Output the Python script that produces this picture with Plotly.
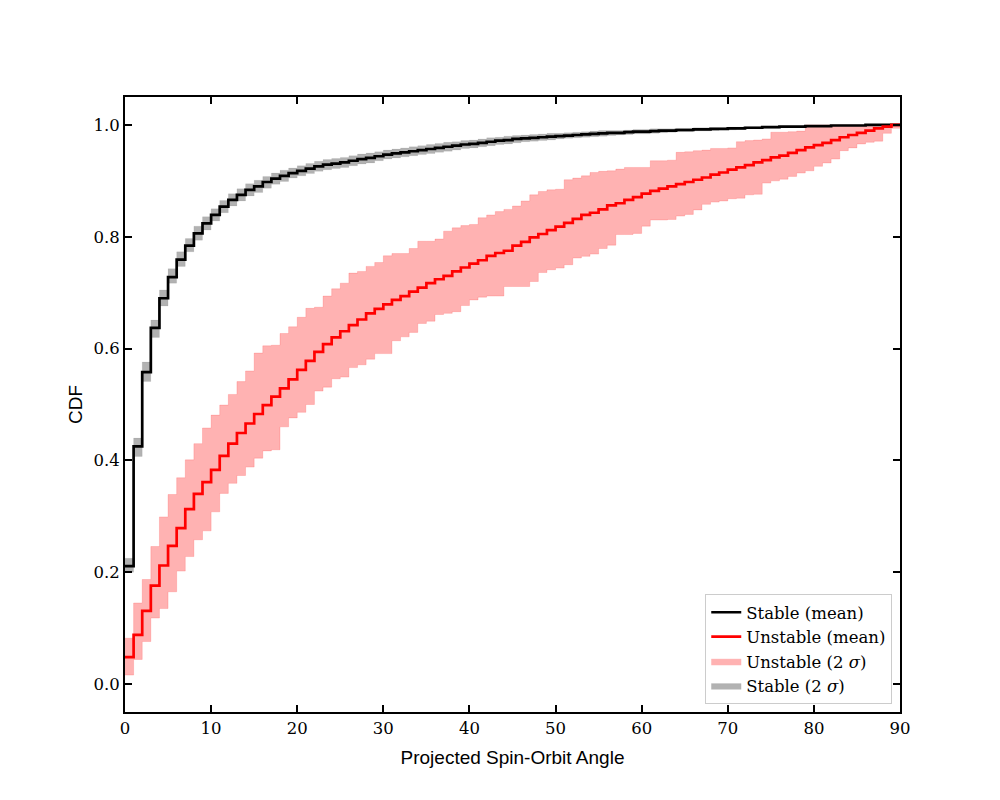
import plotly.graph_objects as go

# bin edges 0..90 deg, one value per 1-degree bin
angle_edges = list(range(0, 91))

stable_mean = [
    0.211, 0.425, 0.558, 0.637, 0.690, 0.728, 0.759, 0.784, 0.806, 0.824,
    0.839, 0.854, 0.866, 0.875, 0.884, 0.890, 0.898, 0.904, 0.909, 0.914,
    0.918, 0.922, 0.926, 0.929, 0.931, 0.933, 0.936, 0.939, 0.941, 0.944,
    0.947, 0.949, 0.951, 0.953, 0.955, 0.957, 0.959, 0.961, 0.963, 0.965,
    0.966, 0.968, 0.970, 0.972, 0.973, 0.975, 0.976, 0.977, 0.978, 0.979,
    0.980, 0.981, 0.982, 0.983, 0.984, 0.985, 0.986, 0.986, 0.987, 0.988,
    0.988, 0.989, 0.990, 0.990, 0.991, 0.991, 0.992, 0.992, 0.993, 0.993,
    0.994, 0.994, 0.995, 0.995, 0.996, 0.996, 0.997, 0.997, 0.997, 0.998,
    0.998, 0.998, 0.999, 0.999, 0.999, 0.999, 1.000, 1.000, 1.000, 1.000,
]
stable_hi = [
    0.225, 0.440, 0.576, 0.651, 0.705, 0.743, 0.773, 0.797, 0.819, 0.836,
    0.850, 0.865, 0.877, 0.886, 0.895, 0.901, 0.908, 0.914, 0.919, 0.923,
    0.927, 0.931, 0.935, 0.938, 0.940, 0.942, 0.945, 0.948, 0.950, 0.952,
    0.955, 0.957, 0.959, 0.961, 0.963, 0.965, 0.967, 0.969, 0.970, 0.972,
    0.973, 0.975, 0.977, 0.978, 0.980, 0.981, 0.982, 0.983, 0.984, 0.985,
    0.985, 0.986, 0.987, 0.988, 0.989, 0.990, 0.990, 0.990, 0.991, 0.992,
    0.992, 0.993, 0.993, 0.993, 0.994, 0.994, 0.995, 0.995, 0.995, 0.995,
    0.996, 0.996, 0.997, 0.997, 0.998, 0.998, 0.998, 0.998, 0.998, 0.999,
    0.999, 0.999, 1.000, 1.000, 1.000, 1.000, 1.000, 1.000, 1.000, 1.000,
]
stable_lo = [
    0.200, 0.407, 0.541, 0.620, 0.676, 0.717, 0.747, 0.773, 0.794, 0.812,
    0.828, 0.843, 0.855, 0.864, 0.873, 0.879, 0.887, 0.894, 0.899, 0.905,
    0.909, 0.913, 0.917, 0.920, 0.922, 0.924, 0.927, 0.930, 0.932, 0.936,
    0.939, 0.941, 0.943, 0.945, 0.947, 0.949, 0.951, 0.953, 0.955, 0.958,
    0.959, 0.961, 0.963, 0.965, 0.966, 0.968, 0.970, 0.971, 0.972, 0.973,
    0.975, 0.976, 0.977, 0.978, 0.979, 0.980, 0.981, 0.982, 0.983, 0.984,
    0.984, 0.985, 0.986, 0.987, 0.988, 0.988, 0.989, 0.989, 0.990, 0.991,
    0.991, 0.992, 0.993, 0.993, 0.994, 0.994, 0.995, 0.996, 0.996, 0.997,
    0.997, 0.997, 0.998, 0.998, 0.998, 0.998, 0.999, 0.999, 0.999, 1.000,
]

unstable_mean = [
    0.048, 0.088, 0.131, 0.176, 0.212, 0.247, 0.279, 0.313, 0.340, 0.361,
    0.383, 0.408, 0.430, 0.449, 0.466, 0.483, 0.499, 0.514, 0.529, 0.545,
    0.562, 0.578, 0.594, 0.608, 0.620, 0.631, 0.642, 0.652, 0.663, 0.671,
    0.679, 0.687, 0.694, 0.702, 0.709, 0.717, 0.724, 0.730, 0.738, 0.745,
    0.752, 0.758, 0.766, 0.771, 0.775, 0.784, 0.791, 0.799, 0.805, 0.812,
    0.818, 0.825, 0.832, 0.839, 0.843, 0.849, 0.856, 0.860, 0.866, 0.871,
    0.877, 0.882, 0.886, 0.890, 0.894, 0.898, 0.902, 0.906, 0.911, 0.915,
    0.920, 0.924, 0.928, 0.933, 0.937, 0.942, 0.945, 0.950, 0.955, 0.960,
    0.964, 0.968, 0.973, 0.978, 0.982, 0.986, 0.990, 0.994, 0.997, 1.000,
]
unstable_hi = [
    0.082, 0.145, 0.187, 0.246, 0.299, 0.339, 0.369, 0.401, 0.430, 0.458,
    0.481, 0.499, 0.518, 0.541, 0.560, 0.592, 0.605, 0.606, 0.627, 0.639,
    0.656, 0.672, 0.674, 0.694, 0.707, 0.717, 0.735, 0.738, 0.747, 0.754,
    0.766, 0.770, 0.770, 0.779, 0.792, 0.792, 0.796, 0.810, 0.816, 0.820,
    0.822, 0.834, 0.839, 0.845, 0.849, 0.855, 0.864, 0.875, 0.881, 0.884,
    0.885, 0.902, 0.905, 0.909, 0.915, 0.917, 0.918, 0.921, 0.924, 0.924,
    0.924, 0.936, 0.936, 0.937, 0.951, 0.952, 0.954, 0.955, 0.958, 0.958,
    0.959, 0.970, 0.972, 0.973, 0.975, 0.987, 0.987, 0.988, 0.989, 1.000,
    1.000, 1.000, 1.000, 1.000, 1.000, 1.000, 1.000, 1.000, 1.000, 1.000,
]
unstable_lo = [
    0.016, 0.044, 0.076, 0.118, 0.135, 0.165, 0.202, 0.228, 0.258, 0.274,
    0.308, 0.341, 0.359, 0.373, 0.388, 0.404, 0.417, 0.419, 0.460, 0.476,
    0.486, 0.500, 0.524, 0.531, 0.546, 0.549, 0.566, 0.571, 0.581, 0.591,
    0.591, 0.614, 0.621, 0.629, 0.645, 0.649, 0.661, 0.663, 0.666, 0.677,
    0.687, 0.692, 0.694, 0.694, 0.711, 0.711, 0.711, 0.720, 0.736, 0.741,
    0.744, 0.750, 0.762, 0.765, 0.769, 0.779, 0.785, 0.804, 0.804, 0.806,
    0.819, 0.830, 0.830, 0.831, 0.837, 0.840, 0.848, 0.858, 0.862, 0.864,
    0.868, 0.869, 0.875, 0.876, 0.896, 0.900, 0.903, 0.908, 0.914, 0.918,
    0.926, 0.932, 0.939, 0.954, 0.959, 0.966, 0.969, 0.971, 0.985, 0.994,
]

x_ticks = [0, 10, 20, 30, 40, 50, 60, 70, 80, 90]
y_ticks = [0.0, 0.2, 0.4, 0.6, 0.8, 1.0]


def steps(vals):
    # repeat the last bin so the 'hv' step reaches x=90
    return vals + [vals[-1]]


fig = go.Figure()

# unstable 2 sigma band
fig.add_trace(go.Scatter(x=angle_edges, y=steps(unstable_lo), mode="lines",
                         line=dict(shape="hv", width=1, color="rgba(255,0,0,0.15)"),
                         showlegend=False, hoverinfo="skip"))
fig.add_trace(go.Scatter(x=angle_edges, y=steps(unstable_hi), mode="lines",
                         line=dict(shape="hv", width=1, color="rgba(255,0,0,0.15)"),
                         fill="tonexty", fillcolor="rgba(255,0,0,0.3)",
                         name="Unstable (2 <i>σ</i>)", legendrank=3))

# stable 2 sigma band
fig.add_trace(go.Scatter(x=angle_edges, y=steps(stable_lo), mode="lines",
                         line=dict(shape="hv", width=0.5, color="rgba(0,0,0,0.1)"),
                         showlegend=False, hoverinfo="skip"))
fig.add_trace(go.Scatter(x=angle_edges, y=steps(stable_hi), mode="lines",
                         line=dict(shape="hv", width=0.5, color="rgba(0,0,0,0.1)"),
                         fill="tonexty", fillcolor="rgba(0,0,0,0.3)",
                         name="Stable (2 <i>σ</i>)", legendrank=4))

# mean curves
fig.add_trace(go.Scatter(x=angle_edges, y=steps(stable_mean), mode="lines",
                         line=dict(shape="hv", width=2.7, color="black"),
                         name="Stable (mean)", legendrank=1))
fig.add_trace(go.Scatter(x=angle_edges, y=steps(unstable_mean), mode="lines",
                         line=dict(shape="hv", width=2.7, color="red"),
                         name="Unstable (mean)", legendrank=2))

axis_common = dict(
    showgrid=False, zeroline=False,
    showline=True, linewidth=2, linecolor="black", mirror="ticks",
    ticks="inside", ticklen=7, tickwidth=2, tickcolor="black",
    tickfont=dict(family="DejaVu Serif", size=16.5, color="black"),
)

fig.update_xaxes(range=[0, 90], tickvals=x_ticks,
                 title=dict(text="Projected Spin-Orbit Angle", standoff=14,
                            font=dict(family="Liberation Sans", size=19, color="black")),
                 **axis_common)
fig.update_yaxes(range=[-0.05, 1.05], tickvals=y_ticks,
                 ticktext=[f"{v:.1f}" for v in y_ticks],
                 title=dict(text="CDF", standoff=6,
                            font=dict(family="Liberation Sans", size=19, color="black")),
                 **axis_common)

fig.update_layout(
    width=1000, height=800,
    # page body has an 8px margin, so shift the plot area back
    margin=dict(l=117, r=108, t=89, b=96),
    paper_bgcolor="white", plot_bgcolor="white",
    legend=dict(x=0.99, y=0.013, xanchor="right", yanchor="bottom",
                traceorder="normal",
                bgcolor="rgba(255,255,255,0.9)", bordercolor="#cccccc", borderwidth=1,
                font=dict(family="DejaVu Serif", size=16.5, color="black"),
                tracegroupgap=2),
    showlegend=True,
)

fig.write_html("out.html")
